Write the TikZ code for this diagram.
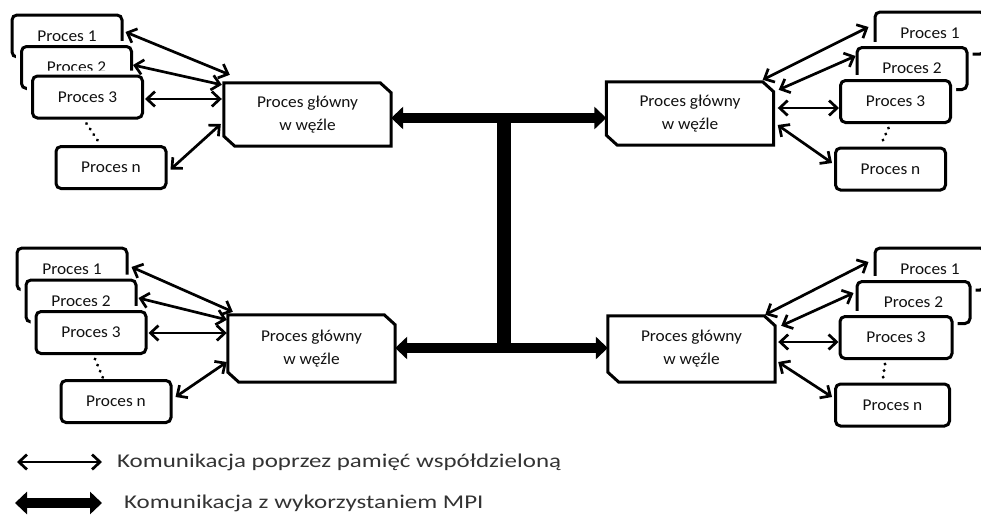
\documentclass[tikz,border=0pt]{standalone}
\usepackage{fontspec}
\setmainfont{Carlito}
\newfontfamily\boxfont{Carlito}[FakeStretch=1.05]
\newfontfamily\legfont{Carlito}[FakeStretch=1.28]
\usetikzlibrary{arrows.meta,calc}
\definecolor{txt}{HTML}{111111}
\definecolor{legtxt}{HTML}{333333}
\tikzset{
  proc/.style={draw, line width=3pt, rounded corners=5pt, fill=white,
    minimum width=110pt, minimum height=42pt, inner sep=0pt,
    font=\boxfont\fontsize{16.5}{19}\selectfont, text=txt,
    preaction={draw=white, line width=11pt}},
  mainbox/.style={minimum width=167pt, minimum height=63pt, inner sep=0pt,
    align=center, font=\boxfont\fontsize{16.5}{23}\selectfont, text=txt},
  boxline/.style={draw, line width=3pt, line join=miter},
  bi/.style={line width=2.7pt, <->, >={Straight Barb[length=8pt,width=15pt]}},
  mpi/.style={line width=10pt, <->, >={Triangle[length=12pt,width=22pt]}},
  mpiv/.style={line width=14pt},
  dots/.style={line width=3.2pt, line cap=round, dash pattern=on 0.1pt off 6.5pt},
  legend/.style={anchor=west, inner sep=0pt, text=legtxt,
    font=\legfont\fontsize{19.5}{22}\selectfont}
}
\newcommand\chamf[1]{\draw[boxline] (#1.north west) -- ([xshift=-11pt]#1.north east)
  -- ([yshift=-10pt]#1.north east) -- (#1.south east) -- ([xshift=11pt]#1.south west)
  -- ([yshift=10pt]#1.south west) -- cycle;}
\begin{document}
\begin{tikzpicture}[x=1pt,y=-1pt]
\useasboundingbox (0,0) rectangle (981,514);

% MPI connections
\coordinate (jt) at (504,118);
\coordinate (jb) at (504,348);

% ---- top left cluster
\node[proc] (a1) at (67,36) {Proces 1};
\node[proc] (a2) at (76.5,67.5) {Proces 2};
\node[proc] (a3) at (87.5,97) {Proces 3};
\node[proc] (an) at (111,167.5) {Proces n};
\node[mainbox] (am) at (307.5,114.5) {Proces główny\\w węźle};
\chamf{am}

% ---- top right cluster
\node[proc] (b1) at (930,33) {Proces 1};
\node[proc] (b2) at (912,68.5) {Proces 2};
\node[proc] (b3) at (895.5,101.5) {Proces 3};
\node[proc] (bn) at (890.5,169) {Proces n};
\node[mainbox] (bm) at (690,113.5) {Proces główny\\w węźle};
\chamf{bm}

% ---- bottom left cluster
\node[proc] (c1) at (72,269) {Proces 1};
\node[proc] (c2) at (81,301) {Proces 2};
\node[proc] (c3) at (91,332.5) {Proces 3};
\node[proc] (cn) at (116,401.5) {Proces n};
\node[mainbox, minimum height=67pt] (cm) at (311.5,348.5) {Proces główny\\w węźle};
\chamf{cm}

% ---- bottom right cluster
\node[proc] (d1) at (930,269) {Proces 1};
\node[proc, minimum width=113pt] (d2) at (913.5,302.5) {Proces 2};
\node[proc, minimum width=112pt] (d3) at (896,337.5) {Proces 3};
\node[proc, minimum width=114pt] (dn) at (892.5,405) {Proces n};
\node[mainbox, minimum height=66pt] (dm) at (691.5,349) {Proces główny\\w węźle};
\chamf{dm}

% MPI arrows
\draw[mpiv] (jt) -- (jb);
\draw[mpi] (am.east |- jt) -- (bm.west |- jt);
\draw[mpi] (cm.east |- jb) -- (dm.west |- jb);

% shared memory arrows TL
\draw[bi] ([shift={(2,-4)}]a1.east) -- ([shift={(6,-8)}]am.north west);
\draw[bi] ([shift={(0,-2.5)}]a2.east) -- ([shift={(-2,2)}]am.north west);
\draw[bi] ($(a3.east)+(1,2)$) -- ($(am.west|-a3.east)+(-2,2)$);
\draw[bi] ([shift={(3,2)}]an.east) -- ([shift={(-3,9.5)}]am.west);

% TR
\draw[bi] ([shift={(-11,-2)}]bm.north east) -- ([shift={(-5,-6)}]b1.west);
\draw[bi] ([shift={(5,8)}]bm.north east) -- ([shift={(0,10)}]b2.north west);
\draw[bi] ($(bm.east|-b3.west)+(4,6.5)$) -- ($(b3.west)+(0,6.5)$);
\draw[bi] ([shift={(4,11.5)}]bm.east) -- ([shift={(-2,-6)}]bn.west);

% BL
\draw[bi] ([shift={(3,-2)}]c1.east) -- ([shift={(5,-3)}]cm.north west);
\draw[bi] ([shift={(1,-3)}]c2.east) -- ([shift={(-1,5)}]cm.north west);
\draw[bi] ($(c3.east)+(1,0.5)$) -- ($(cm.west|-c3.east)+(-1,0.5)$);
\draw[bi] ([shift={(3,-4.5)}]cn.east) -- ([shift={(-1,13.5)}]cm.west);

% BR
\draw[bi] ([shift={(-10,-1)}]dm.north east) -- ([shift={(-5,-7)}]d1.west);
\draw[bi] ([shift={(6,10)}]dm.north east) -- ([shift={(-2,-9.5)}]d2.west);
\draw[bi] ($(dm.east|-d3.west)+(3,4.5)$) -- ($(d3.west)+(0,4.5)$);
\draw[bi] ([shift={(3,13)}]dm.east) -- ([shift={(-2,-8)}]dn.west);

% dotted lines
\draw[dots] ([shift={(-1,4)}]a3.south) -- ([shift={(-11,-1)}]an.north);
\draw[dots] ([shift={(-7,4)}]b3.south) -- ([shift={(-10,-1)}]bn.north);
\draw[dots] ([shift={(4,4)}]c3.south) -- ([shift={(-13,-1)}]cn.north);
\draw[dots] ([shift={(-11,4)}]d3.south) -- ([shift={(-10,-1)}]dn.north);

% legend
\coordinate (l1a) at (17,462);
\coordinate (l1b) at (102,462);
\coordinate (l2a) at (15,503);
\coordinate (l2b) at (102,503);
\draw[bi] (l1a) -- (l1b);
\draw[mpi] (l2a) -- (l2b);
\node[legend] (t1) at (117,462) {Komunikacja poprzez pamięć współdzieloną};
\node[legend] (t2) at (124,503) {Komunikacja z wykorzystaniem MPI};
\end{tikzpicture}
\end{document}
